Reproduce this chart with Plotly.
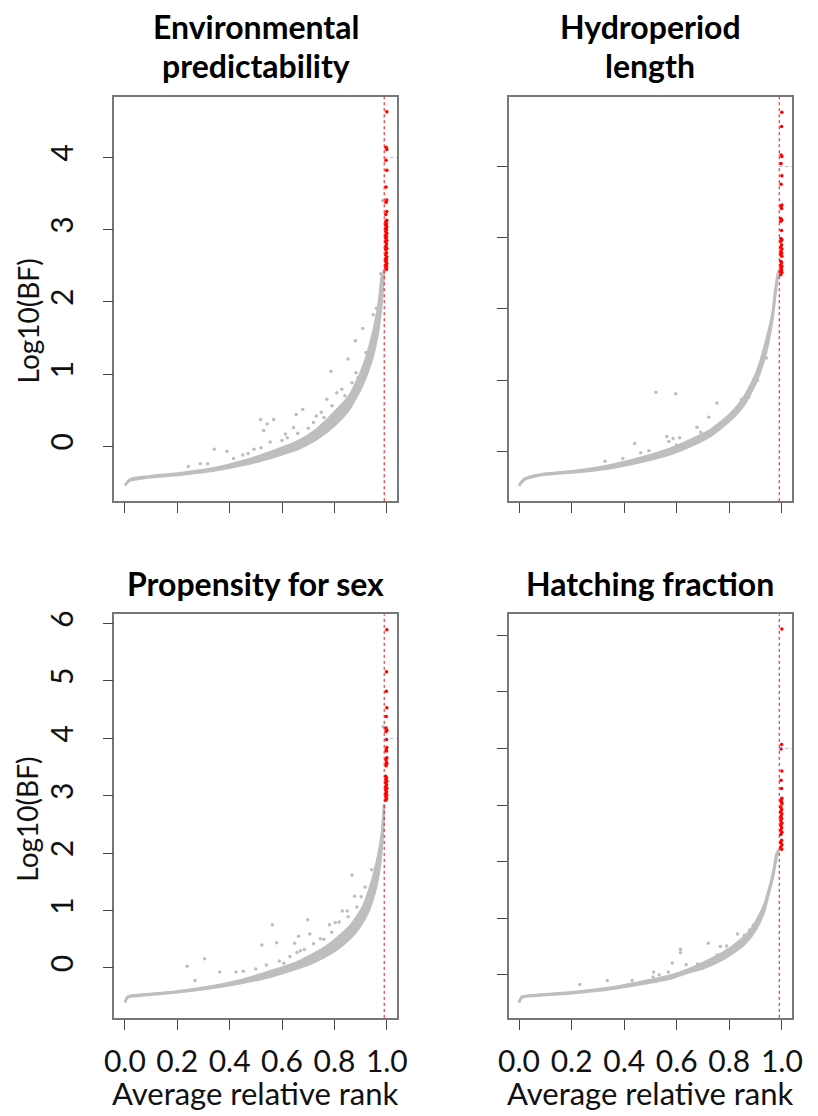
import plotly.graph_objects as go

W, H = 818, 1116
GRAY = "#BEBEBE"
RED = "#FF0000"
FONT = "Lato"

titles = [["Environmental", "predictability"], ["Hydroperiod", "length"],
          ["Propensity for sex"], ["Hatching fraction"]]
x_title = "Average relative rank"
y_title = "Log10(BF)"
x_ticks = [0.0, 0.2, 0.4, 0.6, 0.8, 1.0]
x_ticktext = ["0.0", "0.2", "0.4", "0.6", "0.8", "1.0"]
y_ticks_top = [0, 1, 2, 3, 4]
y_ticks_bottom = [0, 1, 2, 3, 4, 5, 6]
threshold = 0.99

# ---- Panel 1: Environmental predictability
p1_low_x = [0.0, 0.019, 0.087, 0.21, 0.335, 0.458, 0.58, 0.657, 0.731, 0.805, 0.855, 0.905, 0.942, 0.967, 0.979, 0.986, 0.99]
p1_low_y = [-0.54, -0.47, -0.43, -0.39, -0.335, -0.25, -0.13, -0.04, 0.10, 0.31, 0.51, 0.84, 1.20, 1.62, 1.98, 2.30, 2.45]
p1_up_x = [0.0, 0.019, 0.087, 0.21, 0.335, 0.458, 0.58, 0.657, 0.731, 0.805, 0.855, 0.905, 0.942, 0.967, 0.979, 0.99]
p1_up_y = [-0.54, -0.45, -0.41, -0.365, -0.30, -0.19, -0.04, 0.07, 0.24, 0.50, 0.70, 1.08, 1.52, 1.98, 2.35, 2.45]
p1_out_x = [0.242, 0.288, 0.316, 0.341, 0.390, 0.415, 0.45, 0.47, 0.493, 0.518, 0.52, 0.530, 0.543, 0.555, 0.568, 0.60, 0.613, 0.62, 0.644, 0.654, 0.66, 0.679, 0.70, 0.72, 0.731, 0.750, 0.76, 0.771, 0.787, 0.791, 0.809, 0.828, 0.84, 0.852, 0.867, 0.880, 0.882, 0.89, 0.908, 0.92, 0.948, 0.960, 0.976, 0.984]
p1_out_y = [-0.28, -0.24, -0.24, -0.04, -0.07, -0.17, -0.12, -0.10, -0.04, 0.37, -0.02, 0.22, 0.31, 0.06, 0.37, 0.08, 0.17, 0.12, 0.26, 0.44, 0.18, 0.51, 0.25, 0.33, 0.42, 0.47, 0.40, 0.65, 1.04, 0.56, 0.74, 0.79, 0.70, 1.21, 0.88, 1.46, 1.02, 0.95, 1.63, 1.30, 1.82, 1.91, 2.39, 3.40]
p1_red_x = [1.0, 0.997, 1.0, 0.997, 1.0, 0.997, 1.0, 0.997, 1.0, 0.996, 1.0, 0.996, 0.999, 0.996, 1.0, 0.996, 0.999, 0.996, 1.0, 0.996, 0.999, 0.996, 1.0, 0.996, 0.999, 0.996, 1.0, 0.996, 0.999, 0.996, 1.0, 0.996, 0.999, 0.996, 1.0, 0.996, 0.999, 0.996, 0.999]
p1_red_y = [4.63, 4.14, 4.11, 3.96, 3.82, 3.59, 3.41, 3.38, 3.25, 3.21, 3.13, 3.11, 3.08, 3.06, 3.04, 3.02, 3.00, 2.97, 2.95, 2.92, 2.90, 2.88, 2.85, 2.83, 2.80, 2.77, 2.74, 2.72, 2.68, 2.65, 2.62, 2.60, 2.58, 2.56, 2.53, 2.51, 2.49, 2.47, 2.45]

# ---- Panel 2: Hydroperiod length
p2_low_x = [0.0, 0.019, 0.086, 0.21, 0.333, 0.457, 0.58, 0.654, 0.728, 0.80, 0.852, 0.901, 0.938, 0.963, 0.975, 0.983, 0.99]
p2_low_y = [-0.48, -0.40, -0.33, -0.29, -0.24, -0.15, -0.03, 0.08, 0.22, 0.43, 0.64, 0.97, 1.38, 1.85, 2.22, 2.45, 2.55]
p2_up_x = [0.0, 0.019, 0.086, 0.21, 0.333, 0.457, 0.58, 0.654, 0.728, 0.80, 0.852, 0.901, 0.938, 0.963, 0.975, 0.99]
p2_up_y = [-0.48, -0.38, -0.315, -0.27, -0.20, -0.09, 0.05, 0.17, 0.31, 0.52, 0.75, 1.10, 1.55, 1.95, 2.30, 2.55]
p2_out_x = [0.327, 0.395, 0.44, 0.463, 0.494, 0.521, 0.562, 0.570, 0.586, 0.596, 0.599, 0.611, 0.677, 0.691, 0.704, 0.722, 0.75, 0.753, 0.837, 0.847, 0.874, 0.907, 0.914, 0.941]
p2_out_y = [-0.14, -0.10, 0.11, -0.02, 0.01, 0.83, 0.21, 0.14, 0.18, 0.81, 0.09, 0.19, 0.34, 0.27, 0.21, 0.48, 0.34, 0.68, 0.64, 0.73, 0.76, 1.00, 1.10, 1.31]
p2_red_x = [1.0, 0.999, 0.997, 1.0, 0.997, 1.0, 0.997, 1.0, 0.996, 0.999, 0.996, 1.0, 0.996, 0.999, 0.996, 1.0, 0.996, 0.999, 0.996, 1.0, 0.996, 0.999, 0.996, 1.0, 0.996, 0.999, 0.996, 1.0, 0.996, 0.999, 0.996, 1.0, 0.996]
p2_red_y = [4.76, 4.56, 4.16, 4.14, 4.04, 3.87, 3.75, 3.46, 3.44, 3.41, 3.27, 3.25, 3.23, 3.10, 2.99, 2.97, 2.95, 2.90, 2.87, 2.84, 2.81, 2.78, 2.76, 2.74, 2.67, 2.65, 2.62, 2.60, 2.57, 2.55, 2.53, 2.51, 2.48]

# ---- Panel 3: Propensity for sex
p3_low_x = [0.0, 0.011, 0.06, 0.185, 0.31, 0.43, 0.556, 0.62, 0.70, 0.76, 0.81, 0.85, 0.88, 0.91, 0.93, 0.955, 0.97, 0.98, 0.986, 0.99]
p3_low_y = [-0.60, -0.51, -0.48, -0.43, -0.36, -0.27, -0.15, -0.06, 0.06, 0.19, 0.33, 0.48, 0.62, 0.82, 1.00, 1.35, 1.70, 2.10, 2.50, 2.85]
p3_up_x = [0.0, 0.011, 0.06, 0.185, 0.31, 0.43, 0.52, 0.644, 0.768, 0.855, 0.905, 0.942, 0.967, 0.979, 0.99]
p3_up_y = [-0.60, -0.49, -0.46, -0.41, -0.33, -0.22, -0.10, 0.08, 0.38, 0.72, 1.05, 1.52, 2.00, 2.35, 2.85]
p3_out_x = [0.238, 0.268, 0.304, 0.362, 0.424, 0.452, 0.50, 0.523, 0.54, 0.563, 0.579, 0.59, 0.607, 0.63, 0.648, 0.657, 0.663, 0.67, 0.685, 0.698, 0.706, 0.72, 0.746, 0.76, 0.781, 0.79, 0.803, 0.818, 0.830, 0.843, 0.849, 0.852, 0.867, 0.877, 0.886, 0.902, 0.917, 0.942, 0.957, 0.986]
p3_out_y = [0.03, -0.22, 0.16, -0.07, -0.07, -0.06, -0.02, 0.40, 0.05, 0.75, 0.44, 0.12, 0.08, 0.20, 0.43, 0.27, 0.55, 0.30, 0.32, 0.84, 0.59, 0.42, 0.51, 0.50, 0.75, 0.62, 0.79, 0.80, 0.99, 0.60, 0.99, 0.89, 1.62, 1.25, 1.06, 1.24, 1.41, 1.71, 1.75, 4.20]
p3_red_x = [1.0, 0.999, 0.998, 1.0, 0.998, 0.997, 1.0, 0.997, 0.999, 1.0, 0.997, 0.999, 1.0, 0.997, 0.999, 1.0, 0.997, 0.996, 0.999, 0.996, 1.0, 0.996, 0.999, 0.996, 1.0, 0.996, 0.999, 0.996, 1.0, 0.996, 0.999, 0.996]
p3_red_y = [5.89, 5.16, 4.82, 4.53, 4.38, 4.18, 4.14, 4.12, 3.98, 3.84, 3.80, 3.78, 3.66, 3.62, 3.58, 3.55, 3.52, 3.34, 3.31, 3.28, 3.25, 3.22, 3.19, 3.16, 3.13, 3.10, 3.07, 3.04, 3.01, 2.98, 2.95, 2.92]

# ---- Panel 4: Hatching fraction
p4_low_x = [0.0, 0.01, 0.08, 0.2, 0.33, 0.45, 0.577, 0.64, 0.70, 0.76, 0.81, 0.86, 0.9, 0.93, 0.95, 0.965, 0.975, 0.983, 0.99]
p4_low_y = [-0.49, -0.40, -0.36, -0.32, -0.26, -0.17, -0.06, 0.04, 0.12, 0.24, 0.38, 0.56, 0.80, 1.10, 1.45, 1.72, 1.98, 2.15, 2.22]
p4_up_x = [0.0, 0.01, 0.08, 0.2, 0.33, 0.45, 0.58, 0.70, 0.80, 0.877, 0.926, 0.951, 0.969, 0.978, 0.99]
p4_up_y = [-0.49, -0.38, -0.34, -0.30, -0.23, -0.13, 0.00, 0.22, 0.47, 0.78, 1.18, 1.55, 1.90, 2.15, 2.22]
p4_out_x = [0.231, 0.336, 0.43, 0.51, 0.512, 0.533, 0.568, 0.583, 0.614, 0.614, 0.636, 0.679, 0.72, 0.753, 0.766, 0.788, 0.79, 0.831, 0.858, 0.877, 0.891]
p4_out_y = [-0.17, -0.10, -0.10, -0.04, 0.05, 0.0, 0.05, 0.21, 0.39, 0.45, 0.18, 0.19, 0.56, 0.35, 0.50, 0.42, 0.51, 0.72, 0.70, 0.79, 0.88]
p4_red_x = [1.0, 0.999, 0.997, 1.0, 0.997, 0.999, 1.0, 0.997, 0.999, 1.0, 0.996, 0.999, 0.996, 1.0, 0.996, 0.999, 0.996, 1.0, 0.996, 0.999, 0.996, 1.0, 0.996, 0.999, 0.996, 1.0, 0.996, 0.999]
p4_red_y = [6.11, 4.07, 3.99, 3.60, 3.44, 3.29, 3.12, 3.08, 3.05, 3.02, 2.96, 2.92, 2.88, 2.84, 2.80, 2.76, 2.72, 2.68, 2.64, 2.60, 2.56, 2.52, 2.48, 2.38, 2.34, 2.30, 2.26, 2.22]

panels = [
    (p1_low_x, p1_low_y, p1_up_x, p1_up_y, p1_out_x, p1_out_y, p1_red_x, p1_red_y),
    (p2_low_x, p2_low_y, p2_up_x, p2_up_y, p2_out_x, p2_out_y, p2_red_x, p2_red_y),
    (p3_low_x, p3_low_y, p3_up_x, p3_up_y, p3_out_x, p3_out_y, p3_red_x, p3_red_y),
    (p4_low_x, p4_low_y, p4_up_x, p4_up_y, p4_out_x, p4_out_y, p4_red_x, p4_red_y),
]
y_ranges = [[-0.76, 4.84], [-0.70, 4.98], [-0.87, 6.16], [-0.76, 6.37]]

# layout geometry (pixels)
box_x = [(107, 397), (511, 802), (107, 397), (511, 802)]
box_y = [(93, 499), (93, 499), (612.5, 1017.5), (612.5, 1017.5)]

def px(v):
    return v / W

def py(v):
    return 1 - v / H

fig = go.Figure()
for i, (lx, ly, ux, uy, ox, oy, rx, ry) in enumerate(panels):
    n = "" if i == 0 else str(i + 1)
    xa, ya = "x" + n, "y" + n
    fig.add_trace(go.Scatter(x=lx, y=ly, mode="lines", line=dict(color=GRAY, width=3, shape="spline", smoothing=0.6),
                             xaxis=xa, yaxis=ya, hoverinfo="skip"))
    fig.add_trace(go.Scatter(x=ux, y=uy, mode="lines", fill="tonexty", fillcolor=GRAY,
                             line=dict(color=GRAY, width=1.5, shape="spline", smoothing=0.6),
                             xaxis=xa, yaxis=ya, hoverinfo="skip"))
    fig.add_trace(go.Scatter(x=ox, y=oy, mode="markers", marker=dict(color=GRAY, size=3.5),
                             xaxis=xa, yaxis=ya))
    fig.add_trace(go.Scatter(x=rx, y=ry, mode="markers", marker=dict(color=RED, size=3.5),
                             xaxis=xa, yaxis=ya))
    fig.add_shape(type="line", xref=xa, yref=ya + " domain", x0=threshold, x1=threshold, y0=0, y1=1,
                  line=dict(color=RED, width=1, dash="dot"))
    fig.add_shape(type="line", xref=xa, yref=ya, x0=threshold, x1=1.04, y0=4, y1=4,
                  line=dict(color="rgba(110,110,255,0.55)", width=1, dash="dot"))

    left_col = i in (0, 2)
    bottom_row = i in (2, 3)
    yt = y_ticks_top if i < 2 else y_ticks_bottom
    fig.layout["xaxis" + n] = dict(
        domain=[px(box_x[i][0]), px(box_x[i][1])], anchor=ya, range=[-0.04, 1.04],
        tickvals=x_ticks, ticktext=x_ticktext, showticklabels=bottom_row,
        ticks="outside", ticklen=10, tickwidth=1.2, tickcolor="#444",
        showline=True, linecolor="#777", linewidth=1.5, mirror=True,
        showgrid=False, zeroline=False, ticklabelstandoff=6,
        tickfont=dict(family=FONT, size=30, color="#111"))
    fig.layout["yaxis" + n] = dict(
        domain=[py(box_y[i][1]), py(box_y[i][0])], anchor=xa, range=y_ranges[i],
        tickvals=yt, ticktext=[str(v) for v in yt], showticklabels=left_col,
        ticks="outside", ticklen=10, tickwidth=1.2, tickcolor="#444", tickangle=-90,
        showline=True, linecolor="#777", linewidth=1.5, mirror=True,
        showgrid=False, zeroline=False, ticklabelstandoff=18,
        tickfont=dict(family=FONT, size=30, color="#111"))

annotations = []
title_lines_y = [[23, 62], [23, 62], [582], [582]]
for i, lines in enumerate(titles):
    cx = (box_x[i][0] + box_x[i][1]) / 2
    for line, ty in zip(lines, title_lines_y[i]):
        annotations.append(dict(text="<b>" + line + "</b>", x=px(cx), y=py(ty), xref="paper", yref="paper",
                                xanchor="center", yanchor="middle", showarrow=False,
                                font=dict(family=FONT, size=32, color="#000")))
for i, cy in ((0, 318), (2, 818)):
    annotations.append(dict(text=y_title, x=px(18), y=py(cy), xref="paper", yref="paper", textangle=-90,
                            xanchor="center", yanchor="middle", showarrow=False,
                            font=dict(family=FONT, size=28, color="#111")))
for i in (2, 3):
    cx = (box_x[i][0] + box_x[i][1]) / 2
    annotations.append(dict(text=x_title, x=px(cx), y=py(1093), xref="paper", yref="paper",
                            xanchor="center", yanchor="middle", showarrow=False,
                            font=dict(family=FONT, size=31, color="#111")))

fig.update_layout(width=W, height=H, margin=dict(l=0, r=0, t=0, b=0),
                  paper_bgcolor="white", plot_bgcolor="white", showlegend=False,
                  annotations=annotations)
fig.write_html("out.html")
